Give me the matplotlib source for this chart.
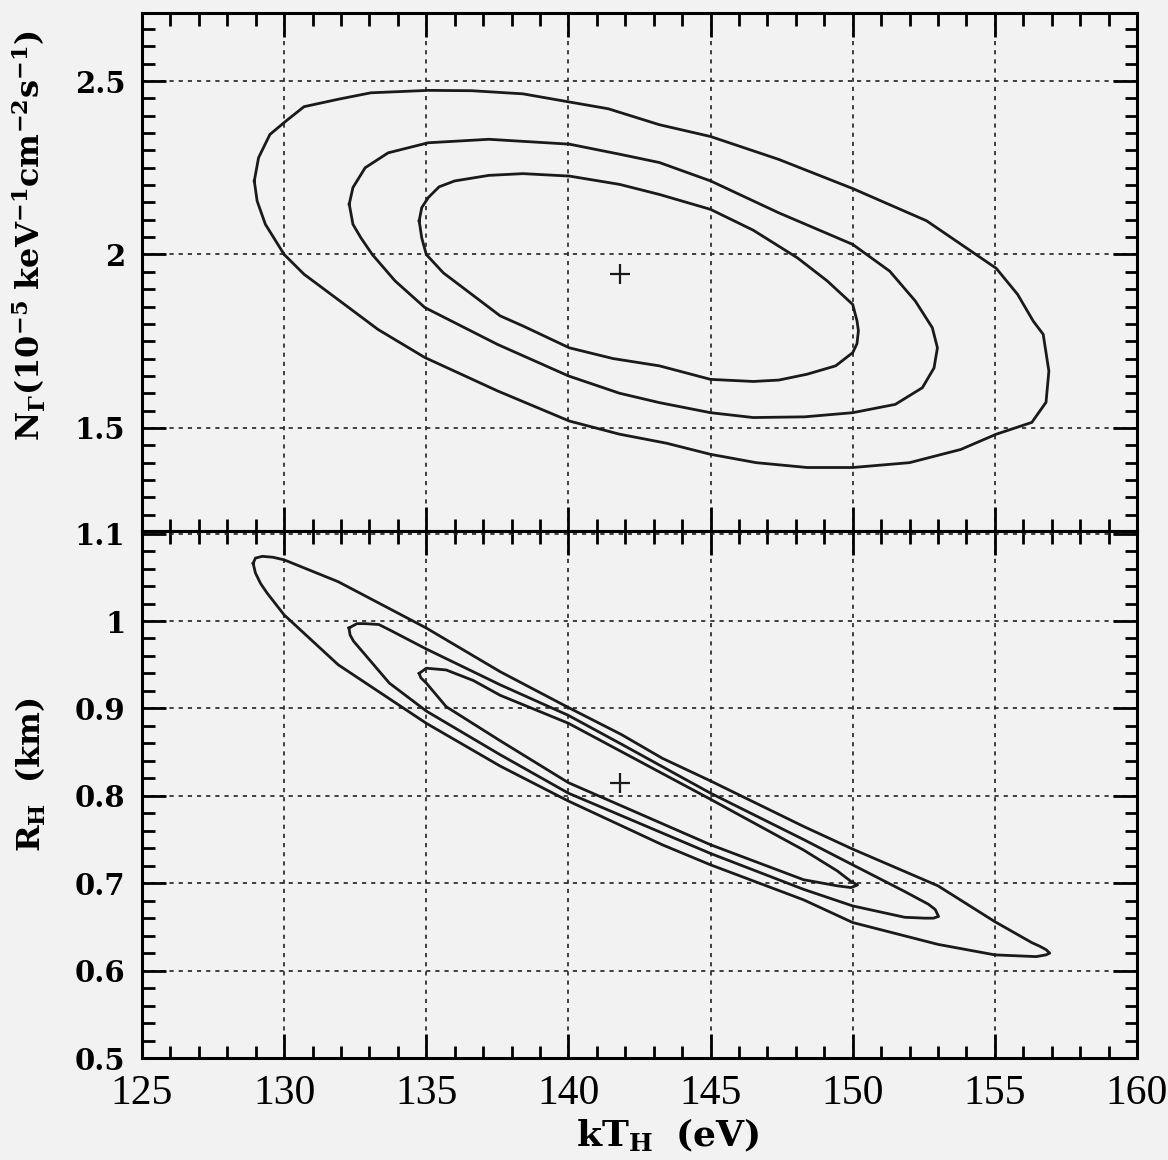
import matplotlib.pyplot as plt
import numpy as np
from matplotlib.ticker import MultipleLocator, FuncFormatter

plt.rcParams['mathtext.fontset'] = 'dejavuserif'

# best fit
best_kt = 141.8
best_norm = 1.944
best_r = 0.815

# top panel contours (kT_H in eV, N_Gamma in 1e-5)
norm_outer_kt = [128.95, 129.1, 129.5, 130.1, 130.7, 131.88, 133.05, 135.07, 136.6, 138.4,
                 140.0, 141.4, 143.2, 145.0, 147.4, 150.0, 152.6, 155.05, 155.8, 156.35,
                 156.7, 156.9, 156.8, 156.3, 155.05, 153.8, 152.0, 150.0, 148.4, 146.6,
                 145.0, 143.45, 141.8, 140.03, 137.5, 134.95, 133.3, 131.88, 130.7, 130.0,
                 129.34, 129.05]
norm_outer_n = [2.212, 2.279, 2.346, 2.387, 2.426, 2.447, 2.466, 2.473, 2.472, 2.463,
                2.44, 2.42, 2.374, 2.34, 2.274, 2.19, 2.097, 1.96, 1.885, 1.808,
                1.77, 1.664, 1.574, 1.516, 1.482, 1.438, 1.40, 1.386, 1.386, 1.40,
                1.424, 1.456, 1.482, 1.52, 1.607, 1.703, 1.784, 1.871, 1.943, 2.0,
                2.087, 2.154]

norm_mid_kt = [132.29, 132.42, 132.85, 133.66, 135.07, 137.2, 140.03, 141.8, 143.2, 145.0,
               147.4, 150.0, 151.3, 152.2, 152.8, 152.98, 152.86, 152.45, 151.5, 150.0,
               148.3, 146.5, 145.0, 143.2, 141.8, 140.0, 137.5, 134.95, 133.9, 133.1,
               132.7, 132.42]
norm_mid_n = [2.145, 2.193, 2.25, 2.293, 2.322, 2.332, 2.318, 2.289, 2.265, 2.212,
              2.12, 2.029, 1.952, 1.866, 1.789, 1.731, 1.673, 1.616, 1.568, 1.544,
              1.532, 1.53, 1.544, 1.573, 1.60, 1.65, 1.741, 1.847, 1.924, 2.0,
              2.048, 2.087]

norm_in_kt = [134.75, 134.84, 135.07, 135.45, 136.0, 137.2, 138.4, 140.03, 141.8, 143.2,
              145.0, 146.5, 148.06, 149.1, 150.0, 150.15, 150.2, 150.15, 150.0, 149.4,
              148.4, 147.4, 146.5, 145.0, 143.2, 141.57, 140.03, 138.4, 137.6, 136.6,
              135.6, 135.0, 134.84]
norm_in_n = [2.097, 2.135, 2.164, 2.195, 2.212, 2.228, 2.233, 2.226, 2.202, 2.173,
             2.13, 2.07, 1.99, 1.924, 1.856, 1.809, 1.78, 1.743, 1.717, 1.679,
             1.655, 1.638, 1.634, 1.64, 1.679, 1.70, 1.731, 1.794, 1.823, 1.885,
             1.947, 2.0, 2.048]

# bottom panel contours (kT_H in eV, R_H in km)
rad_outer_kt = [128.91, 128.99, 129.23, 129.6, 130.0, 131.9, 135.0, 137.6, 140.0, 141.87,
                143.3, 145.0, 148.27, 150.0, 153.0, 155.0, 156.3, 156.57, 156.8, 156.93,
                156.8, 156.45, 155.0, 153.0, 150.0, 148.27, 145.0, 143.3, 140.0, 137.6,
                135.0, 131.9, 130.0, 129.4, 129.17, 128.99]
rad_outer_r = [1.066, 1.072, 1.074, 1.073, 1.07, 1.045, 0.992, 0.942, 0.901, 0.870,
               0.843, 0.817, 0.765, 0.739, 0.697, 0.656, 0.632, 0.628, 0.624, 0.620,
               0.618, 0.616, 0.618, 0.630, 0.655, 0.681, 0.721, 0.744, 0.794, 0.834,
               0.883, 0.950, 1.007, 1.032, 1.043, 1.055]

rad_mid_kt = [132.28, 132.56, 132.85, 133.33, 133.7, 135.0, 137.6, 140.0, 141.87, 145.0,
              148.27, 150.0, 151.8, 152.66, 152.9, 153.02, 152.84, 152.55, 151.83, 150.0,
              148.27, 145.0, 140.0, 137.6, 135.0, 133.7, 132.44, 132.32]
rad_mid_r = [0.992, 0.997, 0.997, 0.996, 0.990, 0.968, 0.927, 0.892, 0.859, 0.803,
             0.750, 0.721, 0.691, 0.676, 0.670, 0.662, 0.660, 0.660, 0.661, 0.674,
             0.693, 0.734, 0.803, 0.847, 0.897, 0.929, 0.977, 0.984]

rad_in_kt = [134.75, 135.0, 135.7, 136.65, 137.6, 140.0, 145.0, 148.27, 149.46, 149.94,
             150.17, 149.94, 149.46, 148.27, 145.0, 140.0, 137.6, 135.7, 135.0, 134.81]
rad_in_r = [0.940, 0.946, 0.944, 0.932, 0.915, 0.883, 0.796, 0.738, 0.714, 0.702,
            0.698, 0.695, 0.697, 0.704, 0.744, 0.815, 0.863, 0.902, 0.929, 0.935]

W, H = 1168, 1160
fig = plt.figure(figsize=(W / 100, H / 100), dpi=100)
left, right = 142 / W, 1137 / W
y_top, y_mid, y_bot = 13 / H, 531 / H, 1058 / H
ax1 = fig.add_axes([left, 1 - y_mid, right - left, y_mid - y_top])
ax2 = fig.add_axes([left, 1 - y_bot, right - left, y_bot - y_mid])


def fmt(v, pos):
    s = '%.1f' % v
    return s[:-2] if s.endswith('.0') else s


def style(ax):
    ax.set_xlim(125, 160)
    ax.xaxis.set_major_locator(MultipleLocator(5))
    ax.xaxis.set_minor_locator(MultipleLocator(1))
    ax.tick_params(which='both', direction='in', top=True, right=True, width=2.0)
    ax.tick_params(which='major', length=17)
    ax.tick_params(which='minor', length=9)
    ax.tick_params(axis='y', pad=12)
    ax.tick_params(axis='x', pad=12)
    for sp in ax.spines.values():
        sp.set_linewidth(2.2)
    ax.grid(True, which='major', linestyle=(0, (2.5, 3)), color='#222222', linewidth=1.2)
    for lab in ax.get_yticklabels():
        lab.set_fontfamily('DejaVu Serif')
        lab.set_fontweight('bold')
        lab.set_fontsize(21)
    ax.yaxis.set_major_formatter(FuncFormatter(fmt))


def closed(xs, ys):
    return np.append(xs, xs[0]), np.append(ys, ys[0])


for xs, ys in [(norm_outer_kt, norm_outer_n), (norm_mid_kt, norm_mid_n), (norm_in_kt, norm_in_n)]:
    cx, cy = closed(xs, ys)
    ax1.plot(cx, cy, color='#1a1a1a', lw=2.0, solid_joinstyle='round')
ax1.plot([best_kt], [best_norm], marker='+', color='#1a1a1a', ms=14, mew=1.6)
ax1.set_ylim(1.203, 2.696)
ax1.yaxis.set_major_locator(MultipleLocator(0.5))
ax1.yaxis.set_minor_locator(MultipleLocator(0.05))
style(ax1)
ax1.tick_params(axis='x', labelbottom=False)
ax1.set_ylabel(r'$\mathbf{N_{\Gamma}(10^{-5}\ keV^{-1}cm^{-2}s^{-1})}$', fontsize=23)
ax1.yaxis.set_label_coords(-0.094, 0.571)

for xs, ys in [(rad_outer_kt, rad_outer_r), (rad_mid_kt, rad_mid_r), (rad_in_kt, rad_in_r)]:
    cx, cy = closed(xs, ys)
    ax2.plot(cx, cy, color='#1a1a1a', lw=2.0, solid_joinstyle='round')
ax2.plot([best_kt], [best_r], marker='+', color='#1a1a1a', ms=14, mew=1.6)
ax2.set_ylim(0.5, 1.103)
ax2.yaxis.set_major_locator(MultipleLocator(0.1))
ax2.yaxis.set_minor_locator(MultipleLocator(0.02))
style(ax2)
for lab in ax2.get_xticklabels():
    lab.set_fontfamily('Liberation Serif')
    lab.set_fontsize(30)
ax2.set_ylabel(r'$\mathbf{R_{H}\ \ (km)}$', fontsize=23)
ax2.yaxis.set_label_coords(-0.094, 0.537)
ax2.set_xlabel(r'$\mathbf{kT_{H}\ \ (eV)}$', fontsize=26)
ax2.xaxis.set_label_coords(0.528, -0.112)

fig.patch.set_facecolor('#f2f2f2')
for ax in (ax1, ax2):
    ax.set_facecolor('#f2f2f2')

fig.savefig('out.png', dpi=100, facecolor=fig.get_facecolor())
